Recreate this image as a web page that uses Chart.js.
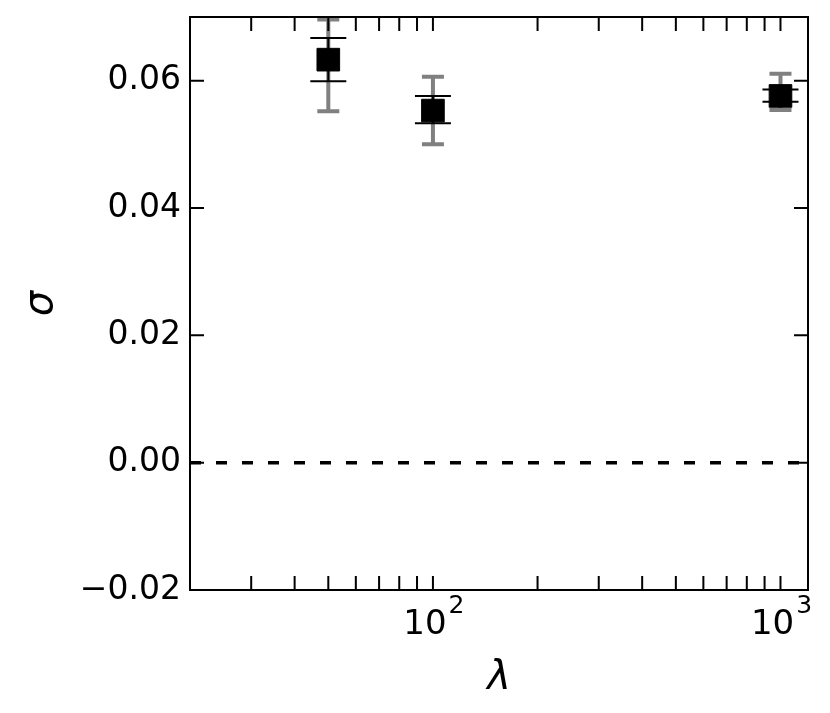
<!DOCTYPE html>
<html lang="en">
<head>
<meta charset="UTF-8">
<title>sigma vs lambda</title>
<script src="https://cdn.jsdelivr.net/npm/chart.js"></script>
<style>
  html, body { margin: 0; padding: 0; background: #fff; }
  #wrap { width: 830px; height: 713px; }
</style>
</head>
<body>
<div id="wrap"><canvas id="sigma-chart"></canvas></div>
<script>
// values
const lambdas = [50, 100, 1000];
const sigmas = [0.0633, 0.0553, 0.0576];
// black (inner) error bars
const innerLow = [0.0599, 0.0533, 0.0567];
const innerHigh = [0.0667, 0.0576, 0.0586];
// grey (outer) error bars
const outerLow = [0.0552, 0.0500, 0.0554];
const outerHigh = [0.0696, 0.0606, 0.0611];

const xRange = [20, 1200];
const yRange = [-0.02, 0.07];
const yTicks = [-0.02, 0.00, 0.02, 0.04, 0.06];
const xMajorTicks = [100, 1000];
const xMinorTicks = [20, 30, 40, 50, 60, 70, 80, 90, 200, 300, 400, 500, 600, 700, 800, 900];

const FONT = "'DejaVu Sans', sans-serif";
const TICK_LEN = 14;

// error bars under the markers, frame + inward ticks + x labels on top
const frameAndErrors = {
  id: 'frameAndErrors',
  beforeDatasetsDraw(chart) {
    const {ctx, scales: {x, y}} = chart;
    ctx.save();
    function errBar(px, lo, hi, color, lw, half) {
      const y1 = y.getPixelForValue(lo), y2 = y.getPixelForValue(hi);
      ctx.strokeStyle = color;
      ctx.lineWidth = lw;
      ctx.beginPath();
      ctx.moveTo(px, y1); ctx.lineTo(px, y2);
      ctx.moveTo(px - half, y1); ctx.lineTo(px + half, y1);
      ctx.moveTo(px - half, y2); ctx.lineTo(px + half, y2);
      ctx.stroke();
    }
    lambdas.forEach((l, i) => {
      const px = x.getPixelForValue(l);
      errBar(px, outerLow[i], outerHigh[i], '#808080', 4, 11);
      errBar(px, innerLow[i], innerHigh[i], '#000000', 2, 18);
    });
    ctx.restore();
  },
  afterDraw(chart) {
    const {ctx, chartArea: a, scales: {x, y}} = chart;
    ctx.save();
    ctx.strokeStyle = '#000';
    ctx.lineWidth = 2;
    ctx.strokeRect(a.left, a.top, a.right - a.left, a.bottom - a.top);
    ctx.beginPath();
    yTicks.forEach(v => {
      const py = y.getPixelForValue(v);
      ctx.moveTo(a.left, py); ctx.lineTo(a.left + TICK_LEN, py);
      ctx.moveTo(a.right, py); ctx.lineTo(a.right - TICK_LEN, py);
    });
    xMajorTicks.concat(xMinorTicks).forEach(v => {
      const px = x.getPixelForValue(v);
      ctx.moveTo(px, a.bottom); ctx.lineTo(px, a.bottom - TICK_LEN);
      ctx.moveTo(px, a.top); ctx.lineTo(px, a.top + TICK_LEN);
    });
    ctx.stroke();

    // 10^n labels
    ctx.fillStyle = '#000';
    ctx.textAlign = 'left';
    ctx.textBaseline = 'alphabetic';
    xMajorTicks.forEach(v => {
      const px = x.getPixelForValue(v);
      const base = '10', exp = String(Math.round(Math.log10(v)));
      ctx.font = '34px ' + FONT;
      const w1 = ctx.measureText(base).width;
      ctx.font = '25px ' + FONT;
      const w2 = ctx.measureText(exp).width;
      const x0 = px - (w1 + w2) / 2;
      ctx.font = '34px ' + FONT;
      ctx.fillText(base, x0, a.bottom + 44);
      ctx.font = '25px ' + FONT;
      ctx.fillText(exp, x0 + w1 + 2, a.bottom + 23);
    });
    ctx.restore();
  }
};

new Chart(document.getElementById('sigma-chart'), {
  type: 'scatter',
  data: {
    datasets: [{
      label: 'sigma',
      data: lambdas.map((l, i) => ({x: l, y: sigmas[i]})),
      pointStyle: 'rect',
      pointRadius: 16,
      pointHoverRadius: 16,
      backgroundColor: '#000',
      borderColor: '#000',
      borderWidth: 1,
      clip: false
    }, {
      label: 'zero',
      data: [{x: xRange[0], y: 0}, {x: xRange[1], y: 0}],
      showLine: true,
      borderColor: '#000',
      borderWidth: 3.5,
      borderDash: [11, 15],
      pointRadius: 0
    }]
  },
  options: {
    responsive: true,
    maintainAspectRatio: false,
    animation: false,
    layout: { padding: { top: 16, right: 22, left: 0, bottom: 0 } },
    plugins: { legend: { display: false }, tooltip: { enabled: false } },
    scales: {
      x: {
        type: 'logarithmic',
        min: xRange[0],
        max: xRange[1],
        grid: { display: false, drawTicks: false },
        border: { display: false },
        ticks: { display: false },
        afterFit: s => { s.height = 123; s.paddingLeft = 0; s.paddingRight = 0; },
        title: {
          display: true,
          text: 'λ',
          color: '#000',
          font: { family: FONT, size: 40, style: 'italic' },
          padding: { top: 0, bottom: 10 }
        }
      },
      y: {
        min: yRange[0],
        max: yRange[1],
        grid: { display: false, drawTicks: false },
        border: { display: false },
        afterBuildTicks: s => { s.ticks = yTicks.map(v => ({value: v})); },
        afterFit: s => { s.width = 190; s.paddingTop = 0; s.paddingBottom = 0; },
        ticks: {
          color: '#000',
          padding: 9,
          font: { family: FONT, size: 33 },
          callback: v => (v < 0 ? '\u2212' : '') + Math.abs(v).toFixed(2)
        },
        title: {
          display: true,
          text: 'σ',
          color: '#000',
          font: { family: FONT, size: 40, style: 'italic' },
          padding: { top: 18, bottom: 0 }
        }
      }
    }
  },
  plugins: [frameAndErrors]
});
</script>
</body>
</html>
